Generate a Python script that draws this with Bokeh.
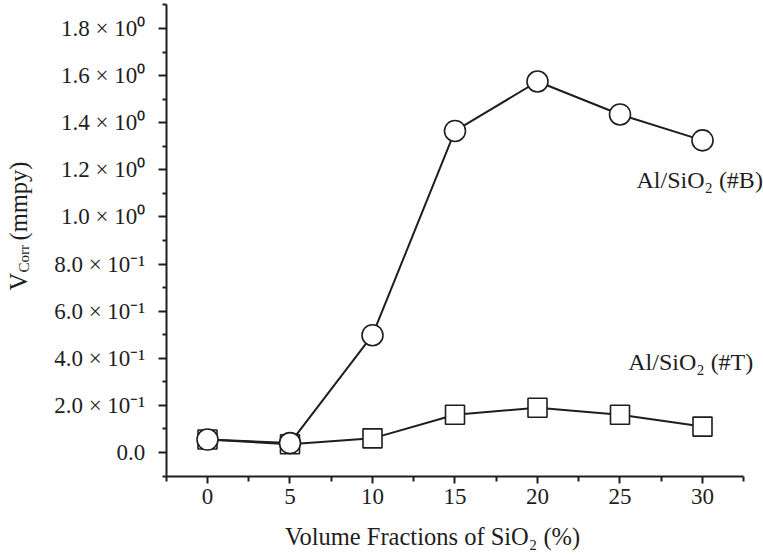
import math
from bokeh.plotting import figure
from bokeh.models import Range1d, FixedTicker, Label
from bokeh.embed import file_html
from bokeh.resources import INLINE

# data
vol_frac = [0, 5, 10, 15, 20, 25, 30]
vcorr_B = [0.055, 0.040, 0.498, 1.365, 1.575, 1.435, 1.325]
vcorr_T = [0.055, 0.035, 0.060, 0.160, 0.190, 0.160, 0.110]
x_ticks = [0, 5, 10, 15, 20, 25, 30]
x_minor = [-2.5, 2.5, 7.5, 12.5, 17.5, 22.5, 27.5, 32.5]
y_ticks = [0.0, 0.2, 0.4, 0.6, 0.8, 1.0, 1.2, 1.4, 1.6, 1.8]
y_minor = [-0.1, 0.1, 0.3, 0.5, 0.7, 0.9, 1.1, 1.3, 1.5, 1.7, 1.9]
y_tick_labels = ["0.0", "2.0 × 10⁻¹", "4.0 × 10⁻¹", "6.0 × 10⁻¹", "8.0 × 10⁻¹",
                 "1.0 × 10⁰", "1.2 × 10⁰", "1.4 × 10⁰", "1.6 × 10⁰", "1.8 × 10⁰"]
x_axis_title = "Volume Fractions of SiO₂ (%)"
label_B = "Al/SiO₂ (#B)"
label_T = "Al/SiO₂ (#T)"

FONT = "Liberation Serif"
INK = "#1e1e1e"
FS = "23px"

p = figure(width=763, height=556, output_backend="svg", toolbar_location=None,
           x_range=Range1d(-12.545, 33.697), y_range=Range1d(-0.4415, 1.9188),
           min_border=0, min_border_left=0, min_border_right=0,
           min_border_top=0, min_border_bottom=0)
p.outline_line_color = None
p.xgrid.visible = False
p.ygrid.visible = False
p.background_fill_color = "white"
p.border_fill_color = "white"

for ax in (p.xaxis[0], p.yaxis[0]):
    ax.axis_line_color = INK
    ax.axis_line_width = 2
    ax.major_tick_line_color = INK
    ax.minor_tick_line_color = INK
    ax.major_tick_line_width = 2
    ax.minor_tick_line_width = 2
    ax.major_tick_in = 0
    ax.minor_tick_in = 0
    ax.major_label_text_font = FONT
    ax.major_label_text_font_size = FS
    ax.major_label_text_color = INK

p.xaxis.fixed_location = -0.1
p.xaxis.bounds = (-2.5, 32.5)
p.xaxis.ticker = FixedTicker(ticks=x_ticks, minor_ticks=x_minor)
p.xaxis.major_tick_out = 7
p.xaxis.minor_tick_out = 5
p.xaxis.major_label_standoff = 6

p.yaxis.fixed_location = -2.5
p.yaxis.bounds = (-0.1, 1.9)
p.yaxis.ticker = FixedTicker(ticks=y_ticks, minor_ticks=y_minor)
p.yaxis.major_label_overrides = {t: l for t, l in zip(y_ticks, y_tick_labels)}
p.yaxis.major_tick_out = 8
p.yaxis.minor_tick_out = 4
p.yaxis.major_label_standoff = 13

# lines and markers
p.line(vol_frac, vcorr_B, line_color=INK, line_width=2)
p.line(vol_frac, vcorr_T, line_color=INK, line_width=2)
p.scatter(vol_frac, vcorr_T, marker="square", size=19, fill_color="white",
          line_color=INK, line_width=1.6)
p.scatter(vol_frac, vcorr_B, marker="circle", size=21, fill_color="white",
          line_color=INK, line_width=1.6)

def lab(x, y, text, size="24px", angle=0.0, align="left"):
    p.add_layout(Label(x=x, y=y, text=text, angle=angle, text_font=FONT,
                       text_font_size=size, text_color=INK, text_align=align,
                       text_baseline="alphabetic"))

# series annotations
lab(26.0, 1.155, label_B)
lab(25.5, 0.386, label_T)

# x axis title
lab(13.64, -0.3566, x_axis_title, size="24.5px", align="center")

# y axis title: V_Corr (mmpy)
lab(-11.45, 0.6877, "V", size="24.5px", angle=math.pi / 2)
lab(-11.15, 0.764, "Corr", size="15px", angle=math.pi / 2)
lab(-11.45, 0.900, "(mmpy)", size="24.5px", angle=math.pi / 2)

open("out.html", "w").write(file_html(p, INLINE))
